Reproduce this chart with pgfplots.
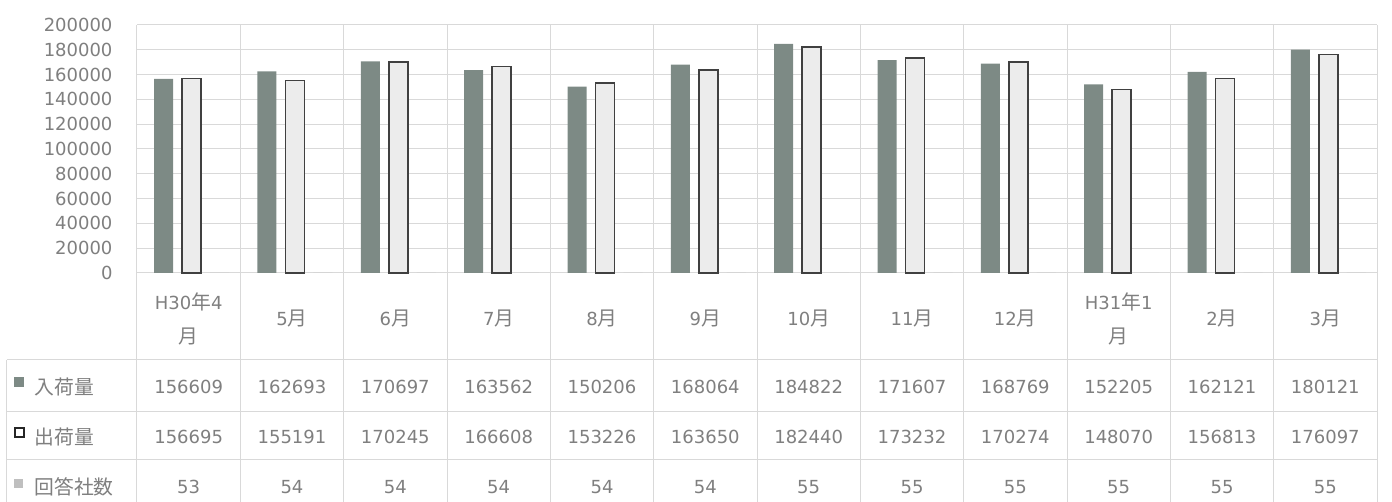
\documentclass[border=0pt]{standalone}
\usepackage{pgfplots}
\pgfplotsset{compat=1.18}
\usepackage{pgfplotstable}
\usepackage{fontspec}
\setmainfont{DejaVu Sans}
\newfontfamily\cjk[Scale=1.1]{Noto Sans CJK JP}
\newcommand\J[1]{{\cjk #1}}
\definecolor{txt}{HTML}{7F7F7F}
\definecolor{gridc}{HTML}{D9D9D9}
\definecolor{darkbar}{HTML}{7D8A85}
\definecolor{lightbar}{HTML}{ECECEC}
\definecolor{edge}{HTML}{404040}
\definecolor{thirdbar}{HTML}{BFBFBF}

\pgfplotstableread{
x in out co
0 156609 156695 53
1 162693 155191 54
2 170697 170245 54
3 163562 166608 54
4 150206 153226 54
5 168064 163650 54
6 184822 182440 55
7 171607 173232 55
8 168769 170274 55
9 152205 148070 55
10 162121 156813 55
11 180121 176097 55
}\data

\begin{document}
\begin{tikzpicture}[x=1pt,y=1pt]
\useasboundingbox (-137,-229) rectangle (1255,273);
\begin{axis}[
  at={(0,0)}, anchor=south west,
  scale only axis, width=1240pt, height=248pt,
  xmin=-0.5, xmax=11.5, ymin=0, ymax=200000,
  axis line style={draw=none},
  major tick length=0pt, minor tick length=0pt,
  ytick={0,20000,...,200000},
  scaled y ticks=false,
  ymajorgrids, major grid style={gridc, line width=1pt},
  minor xtick={-0.5,0.5,...,11.5},
  xminorgrids, minor grid style={gridc, line width=1pt},
  xtick={0,...,11},
  xticklabels={{H30\J{年}4\\\J{月}},{5\J{月}},{6\J{月}},{7\J{月}},{8\J{月}},{9\J{月}},{10\J{月}},{11\J{月}},{12\J{月}},{H31\J{年}1\\\J{月}},{2\J{月}},{3\J{月}}},
  xticklabel style={anchor=center, yshift=-46pt, align=center, text width=95pt, font=\fontsize{18}{34}\selectfont, text=txt},
  yticklabel style={/pgf/number format/fixed, /pgf/number format/1000 sep={}, /pgf/number format/assume math mode=true, font=\fontsize{18}{20}\selectfont, text=txt, xshift=-21pt},
  bar width=19pt,
  clip=false,
]
\addplot[ybar, bar shift=-25pt, fill=darkbar, draw=none] table[x=x, y=in]{\data};
\addplot[ybar, bar shift=3pt, fill=lightbar, draw=edge, line width=1.5pt] table[x=x, y=out]{\data};
\addplot[ybar, bar shift=31pt, fill=thirdbar, draw=none] table[x=x, y=co]{\data};
\end{axis}
% table grid
\foreach \k in {0,...,12}{
  \draw[gridc, line width=1pt] ({\k*1240/12},0) -- ({\k*1240/12},-229);
}
\draw[gridc, line width=1pt] (-130,-87) -- (-130,-229);
\foreach \yy in {-87,-139,-187}{
  \draw[gridc, line width=1pt] (-130,\yy) -- (1240,\yy);
}
% row headers
\fill[darkbar] (-123,-114) rectangle (-113,-104);
\draw[black!85, line width=2.2pt, fill=white] (-122,-164) rectangle (-113,-155);
\fill[thirdbar] (-123,-215) rectangle (-114,-206);
\node[anchor=west, text=txt, font=\fontsize{18}{20}\selectfont] at (-106,-114) {\J{入荷量}};
\node[anchor=west, text=txt, font=\fontsize{18}{20}\selectfont] at (-106,-164) {\J{出荷量}};
\node[anchor=west, text=txt, font=\fontsize{18}{20}\selectfont] at (-106,-214) {\J{回答社数}};
% values
\foreach \i in {0,...,11}{
  \pgfmathsetmacro{\cx}{(\i+0.5)*1240/12}
  \pgfplotstablegetelem{\i}{in}\of\data
  \node[text=txt, font=\fontsize{18}{20}\selectfont] at (\cx,-114) {\pgfplotsretval};
  \pgfplotstablegetelem{\i}{out}\of\data
  \node[text=txt, font=\fontsize{18}{20}\selectfont] at (\cx,-164) {\pgfplotsretval};
  \pgfplotstablegetelem{\i}{co}\of\data
  \node[text=txt, font=\fontsize{18}{20}\selectfont] at (\cx,-214) {\pgfplotsretval};
}
\end{tikzpicture}
\end{document}
